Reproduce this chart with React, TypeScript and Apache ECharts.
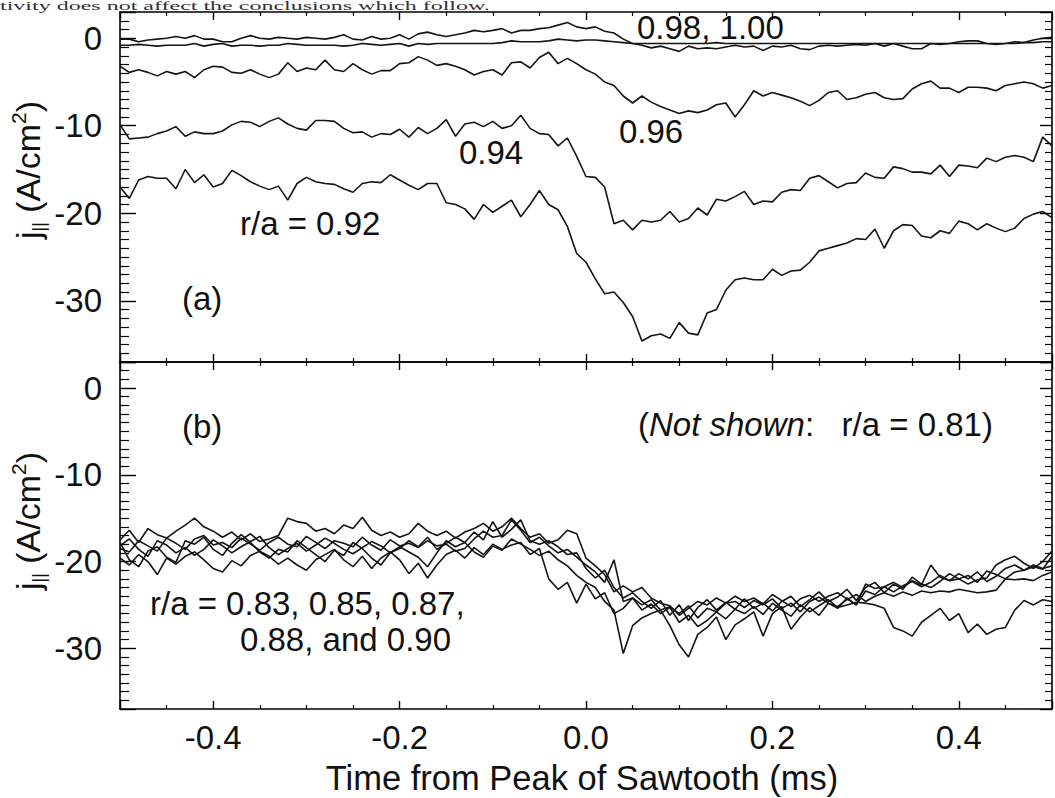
import React, { useEffect, useRef } from "react";
import * as echarts from "echarts";

// Time from peak of sawtooth (ms)
const TIME = [
  -0.5, -0.49, -0.48, -0.47, -0.46, -0.45, -0.44, -0.43, -0.42, -0.41,
  -0.4, -0.39, -0.38, -0.37, -0.36, -0.35, -0.34, -0.33, -0.32, -0.31,
  -0.3, -0.29, -0.28, -0.27, -0.26, -0.25, -0.24, -0.23, -0.22, -0.21,
  -0.2, -0.19, -0.18, -0.17, -0.16, -0.15, -0.14, -0.13, -0.12, -0.11,
  -0.1, -0.09, -0.08, -0.07, -0.06, -0.05, -0.04, -0.03, -0.02, -0.01,
  0.0, 0.01, 0.02, 0.03, 0.04, 0.05, 0.06, 0.07, 0.08, 0.09,
  0.1, 0.11, 0.12, 0.13, 0.14, 0.15, 0.16, 0.17, 0.18, 0.19,
  0.2, 0.21, 0.22, 0.23, 0.24, 0.25, 0.26, 0.27, 0.28, 0.29,
  0.3, 0.31, 0.32, 0.33, 0.34, 0.35, 0.36, 0.37, 0.38, 0.39,
  0.4, 0.41, 0.42, 0.43, 0.44, 0.45, 0.46, 0.47, 0.48, 0.49,
  0.5,
];

// Panel (a): j_parallel (A/cm^2)
const RA_092 = [
  -17.0, -18.3, -16.2, -15.8, -16.0, -16.0, -17.2, -15.0, -16.5, -15.6,
  -17.0, -16.6, -15.1, -15.7, -16.4, -16.9, -17.3, -16.9, -18.5, -16.6,
  -15.9, -16.4, -16.6, -16.7, -17.2, -17.6, -16.6, -16.4, -16.5, -15.6,
  -16.2, -16.8, -17.3, -16.6, -16.6, -18.8, -19.0, -19.5, -20.7, -19.0,
  -19.9, -19.2, -18.5, -20.4, -19.0, -17.4, -19.0, -19.6, -21.5, -24.6,
  -25.6, -27.5, -29.2, -29.0, -30.2, -31.8, -34.6, -34.0, -33.8, -34.3,
  -32.5, -33.7, -33.9, -31.4, -31.0, -28.8, -27.6, -27.4, -27.6, -27.6,
  -26.4, -27.1, -26.6, -26.5, -25.6, -24.3, -24.0, -23.7, -23.4, -22.9,
  -23.0, -21.8, -24.0, -22.0, -21.3, -21.4, -22.6, -22.8, -22.0, -22.3,
  -20.9, -21.2, -21.9, -21.2, -21.7, -22.1, -21.7, -20.6, -20.1, -19.8,
  -20.5,
];
const RA_094 = [
  -9.9, -11.5, -11.4, -11.3, -10.9, -10.6, -10.1, -11.2, -10.7, -10.9,
  -10.9, -10.6, -9.9, -9.5, -9.6, -10.1, -9.5, -9.1, -9.8, -10.3,
  -10.5, -9.4, -9.4, -9.5, -10.3, -10.8, -10.7, -11.3, -10.9, -11.0,
  -10.4, -11.3, -10.2, -10.9, -10.3, -9.3, -11.2, -9.8, -9.6, -10.1,
  -9.5, -10.3, -10.0, -8.8, -10.3, -10.9, -11.0, -12.3, -11.4, -13.5,
  -15.8, -15.9, -17.0, -21.2, -20.8, -21.9, -20.8, -21.0, -20.8, -19.8,
  -21.0, -20.6, -19.4, -20.2, -18.4, -18.6, -18.1, -17.5, -19.0, -18.6,
  -18.7, -17.6, -17.3, -17.4, -16.0, -15.7, -16.4, -17.1, -16.6, -16.5,
  -15.4, -15.9, -16.0, -14.7, -14.9, -15.3, -15.3, -15.5, -14.5, -15.8,
  -14.5, -14.6, -14.8, -13.7, -14.1, -13.6, -13.4, -13.6, -14.1, -11.3,
  -12.3,
];
const RA_096 = [
  -3.2, -3.9, -3.6, -3.9, -4.3, -3.8, -4.1, -3.8, -4.5, -3.6,
  -3.2, -3.3, -3.9, -4.0, -3.6, -4.1, -4.5, -4.1, -2.8, -3.8,
  -3.4, -3.6, -2.5, -3.6, -3.8, -2.9, -3.6, -4.1, -3.7, -3.7,
  -2.9, -2.8, -2.1, -2.5, -3.1, -2.9, -3.2, -3.6, -4.2, -3.8,
  -3.6, -4.2, -2.8, -2.7, -3.4, -2.2, -1.6, -2.9, -2.3, -2.9,
  -3.6, -4.1, -5.0, -5.4, -6.6, -7.4, -6.6, -7.3, -7.8, -8.2,
  -8.6, -8.3, -8.5, -8.2, -7.6, -7.4, -9.0, -7.6, -6.0, -6.6,
  -6.2, -6.5, -6.8, -7.2, -7.7, -7.1, -6.2, -6.0, -7.0, -6.8,
  -6.4, -6.2, -6.8, -7.0, -6.9, -5.8, -5.2, -4.9, -5.7, -5.7,
  -6.2, -5.6, -5.6, -5.7, -6.0, -5.4, -5.2, -5.0, -5.2, -5.7,
  -5.4,
];
const RA_098 = [
  -0.1, -0.1, -0.4, -0.2, -0.1, 0.0, 0.2, 0.0, 0.3, -0.1,
  -0.1, -0.4, -0.4, 0.0, 0.3, 0.0, -0.1, 0.1, 0.0, -0.1,
  0.1, 0.0, -0.1, 0.1, 0.4, -0.1, -0.2, 0.2, -0.1, 0.0,
  0.4, -0.1, 0.5, 0.7, 0.4, 0.2, 0.4, 0.6, 0.9, 0.75,
  0.9, 1.1, 0.6, 0.9, 0.9, 1.1, 1.2, 1.5, 1.8, 1.3,
  1.1, 1.3, 0.8, 0.6, -0.1, -0.6, -0.8, -1.1, -0.9, -1.2,
  -1.5, -0.9, -1.2, -1.1, -1.2, -1.0, -0.8, -1.0, -0.9, -1.4,
  -0.9, -1.0, -0.8, -1.2, -1.3, -0.9, -0.8, -0.9, -0.8, -0.7,
  -0.8, -0.6, -0.9, -0.6, -0.9, -1.2, -1.2, -0.6, -0.7, -0.6,
  -0.4, -0.3, -0.3, -0.6, -0.7, -0.6, -0.4, -0.5, -0.2, 0.0,
  0.1,
];
const RA_100 = [
  -0.8, -0.8, -0.7, -0.8, -0.9, -0.8, -0.8, -0.8, -0.6, -0.9,
  -0.7, -0.6, -0.9, -0.8, -0.8, -0.9, -0.8, -0.8, -0.6, -0.7,
  -0.8, -0.8, -0.8, -0.8, -0.9, -0.8, -0.6, -0.7, -0.8, -0.7,
  -0.6, -0.9, -0.6, -0.7, -0.6, -0.6, -0.6, -0.6, -0.6, -0.6,
  -0.6, -0.5, -0.3, -0.4, -0.4, -0.4, -0.3, -0.1, -0.2, -0.3,
  -0.2, -0.2, -0.3, -0.4, -0.5, -0.6, -0.6, -0.6, -0.6, -0.6,
  -0.6, -0.6, -0.6, -0.6, -0.5, -0.6, -0.6, -0.6, -0.6, -0.6,
  -0.6, -0.6, -0.6, -0.6, -0.6, -0.6, -0.6, -0.6, -0.6, -0.6,
  -0.6, -0.6, -0.6, -0.6, -0.6, -0.6, -0.6, -0.6, -0.6, -0.6,
  -0.6, -0.6, -0.6, -0.6, -0.6, -0.6, -0.6, -0.5, -0.5, -0.4,
  -0.4,
];

// Panel (b)
const RA_083 = [
  -17.5, -16.4, -17.8, -16.2, -16.9, -17.3, -16.5, -15.8, -15.0, -16.0,
  -16.5, -17.2, -16.6, -17.5, -16.8, -17.7, -17.4, -17.0, -15.0, -15.4,
  -15.6, -16.5, -16.2, -16.8, -15.8, -16.2, -14.9, -16.4, -17.0, -16.6,
  -17.2, -16.8, -15.6, -16.5, -17.0, -16.5, -17.3, -16.6, -16.2, -15.6,
  -16.5, -16.0, -15.0, -16.2, -17.2, -16.8, -17.9, -17.5, -16.4, -16.8,
  -19.6, -20.5, -21.5, -23.5, -22.8, -23.5, -23.0, -24.2, -24.8, -25.1,
  -26.2, -25.4, -24.6, -25.0, -24.2, -24.8, -24.0, -24.6, -24.2, -24.9,
  -23.8, -24.5, -25.2, -24.3, -23.9, -24.6, -24.0, -23.6, -24.3, -25.0,
  -22.6, -23.1, -22.9, -22.4, -23.0, -22.2, -22.7, -20.4, -21.8, -22.2,
  -22.0, -22.6, -22.1, -21.9, -20.4, -19.8, -19.4, -20.2, -20.8, -20.0,
  -18.8,
];
const RA_085 = [
  -18.5, -18.9, -17.6, -18.2, -18.8, -17.3, -17.9, -18.6, -17.4, -17.0,
  -18.1, -17.8, -18.4, -17.3, -18.0, -18.7, -17.8, -17.2, -18.0, -18.3,
  -17.1, -17.8, -18.5, -17.6, -17.9, -18.3, -17.2, -18.1, -18.7, -17.5,
  -18.2, -17.9, -18.4, -17.6, -18.2, -18.0, -18.8, -18.5, -17.4, -16.5,
  -17.2, -17.0, -15.2, -16.4, -17.8, -17.2, -18.2, -19.0, -18.6, -19.5,
  -20.4, -21.2, -22.4, -19.8, -24.6, -24.2, -25.0, -24.4, -25.6, -25.2,
  -26.0, -25.1, -26.5, -25.4, -25.8, -24.8, -24.6, -25.3, -24.5, -25.0,
  -24.3, -25.4, -24.8, -25.8, -24.6, -24.1, -24.8, -25.2, -24.4, -23.8,
  -24.6, -24.0, -23.6, -24.0, -23.5, -23.9, -23.4, -23.6, -23.4, -23.5,
  -23.2, -23.4, -23.6, -23.5, -23.3, -22.0, -22.1, -22.0, -22.2, -21.6,
  -21.2,
];
const RA_087 = [
  -19.6, -20.4, -19.2, -20.0, -21.5, -19.6, -20.3, -19.4, -18.9, -19.8,
  -20.8, -21.2, -19.9, -20.5, -19.3, -18.8, -19.4, -20.3, -19.6, -20.4,
  -21.0, -19.8, -19.2, -18.6, -19.8, -20.6, -19.4, -20.8, -19.6, -18.9,
  -19.8, -21.4, -20.2, -21.9, -20.4, -19.2, -18.7, -19.6, -18.4, -19.2,
  -18.0, -18.6, -18.1, -17.8, -19.2, -18.5, -22.0, -23.2, -22.4, -24.8,
  -22.6, -24.3, -23.6, -26.0, -25.4, -24.2, -25.6, -24.9, -26.0, -25.3,
  -27.0, -26.2, -27.5, -26.8, -25.8, -26.6, -25.5, -26.0, -25.2, -26.1,
  -24.8, -25.6, -26.3, -25.0, -25.8, -25.1, -24.4, -25.3, -25.0, -24.7,
  -24.8, -25.0, -25.4, -27.6, -28.0, -28.6, -27.0, -26.2, -25.4, -26.8,
  -26.0, -28.2, -27.2, -28.4, -27.8, -27.6, -25.6, -24.5, -25.0, -24.4,
  -24.6,
];
const RA_088 = [
  -17.8, -19.8, -20.6, -18.8, -18.3, -19.5, -20.1, -17.6, -18.0, -17.2,
  -18.6, -19.3, -17.9, -16.9, -17.8, -18.9, -19.6, -18.6, -18.9, -17.6,
  -18.4, -19.2, -20.0, -18.7, -19.3, -17.8, -18.5, -19.6, -20.4, -19.0,
  -18.3, -18.9, -19.5, -20.6, -19.0, -17.6, -18.3, -17.8, -18.9, -19.5,
  -18.2, -18.7, -17.4, -18.0, -18.6, -19.3, -18.8, -19.8, -20.5, -21.6,
  -22.4, -23.0, -24.6, -25.6, -30.6, -27.4, -26.5, -26.0, -25.6, -27.4,
  -29.6, -31.0, -28.4, -27.6, -26.4, -29.0, -27.3, -26.6, -25.8, -28.6,
  -26.0, -25.2, -27.8, -26.4, -25.3, -26.2, -24.8, -25.4, -24.2, -25.0,
  -23.4, -23.8, -22.9, -23.5, -22.8, -22.3, -22.9, -22.4, -21.6, -22.2,
  -21.4, -22.0, -21.2, -22.3, -21.7, -20.8, -20.4, -21.0, -20.6, -20.9,
  -19.4,
];
const RA_090 = [
  -18.2, -17.4, -18.6, -19.4, -17.6, -18.1, -19.0, -18.4, -19.3, -18.6,
  -17.5, -18.2, -19.0, -18.3, -17.7, -17.1, -18.4, -19.2, -18.5, -17.9,
  -18.8, -18.1, -17.3, -17.9, -18.6, -19.1, -18.4, -17.7, -18.2, -19.0,
  -18.5, -17.6, -18.3, -17.2, -18.6, -17.9, -17.2, -17.8, -16.6, -17.5,
  -15.4, -17.2, -16.3, -15.2, -17.6, -18.0, -17.6, -18.3, -19.2, -19.0,
  -20.8, -21.9, -21.0, -23.0, -24.2, -23.6, -24.6, -25.4, -24.5, -26.2,
  -25.0, -26.8, -25.3, -24.4, -25.6, -24.7, -25.5, -24.3, -25.4, -24.8,
  -25.7, -24.6, -24.0, -25.2, -24.4, -23.5, -24.6, -24.1, -23.2, -24.5,
  -23.0, -22.4, -23.6, -22.6, -23.2, -21.8, -22.6, -23.0, -22.3, -21.4,
  -22.0, -21.6, -22.4, -21.1, -21.5, -22.0, -21.2, -21.0, -20.4, -20.8,
  -20.5,
];

const PANEL_A = [
  { name: "r/a = 0.92", values: RA_092 },
  { name: "0.94", values: RA_094 },
  { name: "0.96", values: RA_096 },
  { name: "0.98", values: RA_098 },
  { name: "1.00", values: RA_100 },
];
const PANEL_B = [
  { name: "0.83", values: RA_083 },
  { name: "0.85", values: RA_085 },
  { name: "0.87", values: RA_087 },
  { name: "0.88", values: RA_088 },
  { name: "0.90", values: RA_090 },
];

const X_MIN = -0.5;
const X_MAX = 0.5;
const Y_MIN = -37;
const Y_MAX = 3;

const FONT = '"Liberation Sans", Arial, Helvetica, sans-serif';
const INK = "#111";
const LABEL_SIZE = 33;

function xAxisPair(gridIndex: number, showLabels: boolean) {
  const common = {
    type: "value",
    gridIndex,
    min: X_MIN,
    max: X_MAX,
    splitNumber: 5,
    splitLine: { show: false },
    axisLine: { show: true, onZero: false, lineStyle: { color: "#000", width: 1.6 } },
    axisTick: { show: true, inside: true, length: 8, lineStyle: { color: "#000", width: 1.4 } },
    minorTick: { show: true, splitNumber: 4, length: 4, lineStyle: { color: "#000", width: 1.2 } },
  };
  return [
    {
      ...common,
      position: "bottom",
      axisLabel: {
        show: showLabels,
        formatter: (v: number) => v.toFixed(1),
        fontSize: LABEL_SIZE,
        fontFamily: FONT,
        color: INK,
        margin: 12,
        showMinLabel: false,
        showMaxLabel: false,
      },
    },
    { ...common, position: "top", axisLabel: { show: false } },
  ];
}

function yAxisPair(gridIndex: number) {
  const common = {
    type: "value",
    gridIndex,
    min: Y_MIN,
    max: Y_MAX,
    splitNumber: 4,
    splitLine: { show: false },
    axisLine: { show: true, onZero: false, lineStyle: { color: "#000", width: 1.6 } },
  };
  return [
    {
      ...common,
      position: "left",
      axisTick: { show: true, inside: true, length: 16, lineStyle: { color: "#000", width: 1.4 } },
      minorTick: { show: true, splitNumber: 10, length: 9, lineStyle: { color: "#000", width: 1.2 } },
      axisLabel: {
        show: true,
        formatter: (v: number) => String(Math.round(v)),
        fontSize: LABEL_SIZE,
        fontFamily: FONT,
        color: INK,
        margin: 18,
        showMinLabel: false,
        showMaxLabel: false,
      },
    },
    {
      ...common,
      position: "right",
      axisTick: { show: true, inside: true, length: 12, lineStyle: { color: "#000", width: 1.4 } },
      minorTick: { show: true, splitNumber: 10, length: 7, lineStyle: { color: "#000", width: 1.2 } },
      axisLabel: { show: false },
    },
  ];
}

function lineSeries(list: { name: string; values: number[] }[], axisIndex: number) {
  return list.map((s) => ({
    type: "line",
    name: s.name,
    xAxisIndex: axisIndex,
    yAxisIndex: axisIndex,
    data: TIME.map((t, i) => [t, s.values[i]]),
    symbol: "none",
    showSymbol: false,
    lineStyle: { color: "#141414", width: 1.6 },
    z: 3,
  }));
}

function label(text: string, x: number, y: number, extra: Record<string, unknown> = {}) {
  return {
    type: "text",
    x,
    y,
    z: 10,
    style: {
      text,
      fontSize: LABEL_SIZE,
      fontFamily: FONT,
      fill: INK,
      align: "left",
      verticalAlign: "middle",
      ...extra,
    },
  };
}

const JPAR_RICH = {
  j: { fontSize: 34, fontFamily: FONT, fill: INK, lineHeight: 40 },
  s: { fontSize: 18, fontFamily: FONT, fill: INK, lineHeight: 14, verticalAlign: "bottom" },
  n: { fontSize: 34, fontFamily: FONT, fill: INK, lineHeight: 40 },
  p: { fontSize: 21, fontFamily: FONT, fill: INK, lineHeight: 20, verticalAlign: "top" },
};

function yTitle(cy: number) {
  return {
    type: "text",
    x: 28,
    y: cy,
    rotation: Math.PI / 2,
    z: 10,
    style: {
      text: "{j|j}{s|||}{n| (A/cm}{p|2}{n|)}",
      rich: JPAR_RICH,
      align: "center",
      verticalAlign: "middle",
      fill: INK,
    },
  };
}

export default function App() {
  const ref = useRef<HTMLDivElement>(null);

  useEffect(() => {
    if (!ref.current) return;
    const chart = echarts.init(ref.current, null, { renderer: "svg" });
    const [xa0, xa1] = xAxisPair(0, false);
    const [xb0, xb1] = xAxisPair(1, true);
    const [ya0, ya1] = yAxisPair(0);
    const [yb0, yb1] = yAxisPair(1);

    chart.setOption({
      animation: false,
      backgroundColor: "#ffffff",
      grid: [
        { left: 120, top: 12, width: 932, height: 350, containLabel: false },
        { left: 120, top: 362, width: 932, height: 347, containLabel: false },
      ],
      xAxis: [xa0, xa1, xb0, xb1],
      yAxis: [ya0, ya1, yb0, yb1],
      series: [...lineSeries(PANEL_A, 0), ...lineSeries(PANEL_B, 2)],
      graphic: [
        {
          type: "text",
          x: 0,
          y: 0,
          scaleX: 2,
          z: 10,
          style: {
            text: "tivity does not affect the conclusions which follow.",
            fontSize: 12,
            fontFamily: '"Liberation Serif", "DejaVu Serif", serif',
            fill: "#333",
            align: "left",
            verticalAlign: "top",
          },
        },
        label("0.98, 1.00", 637, 27),
        label("0.96", 619, 131),
        label("0.94", 459, 152),
        label("r/a = 0.92", 240, 223),
        label("(a)", 182, 298),
        label("(b)", 182, 426),
        {
          type: "text",
          x: 638,
          y: 424,
          z: 10,
          style: {
            text: "{n|(}{i|Not shown}{n|:   r/a = 0.81)}",
            rich: {
              n: { fontSize: LABEL_SIZE, fontFamily: FONT, fill: INK },
              i: { fontSize: LABEL_SIZE, fontFamily: FONT, fill: INK, fontStyle: "italic" },
            },
            align: "left",
            verticalAlign: "middle",
          },
        },
        label("r/a = 0.83, 0.85, 0.87,", 150, 603),
        label("0.88, and 0.90", 240, 639),
        {
          type: "text",
          x: 582,
          y: 778,
          z: 10,
          style: {
            text: "Time from Peak of Sawtooth (ms)",
            fontSize: 34.5,
            fontFamily: FONT,
            fill: INK,
            align: "center",
            verticalAlign: "middle",
          },
        },
        yTitle(170),
        yTitle(521),
      ],
    });
    return () => chart.dispose();
  }, []);

  return (
    <div
      ref={ref}
      style={{ position: "absolute", left: 0, top: 0, width: 1055, height: 798, background: "#fff" }}
    />
  );
}
